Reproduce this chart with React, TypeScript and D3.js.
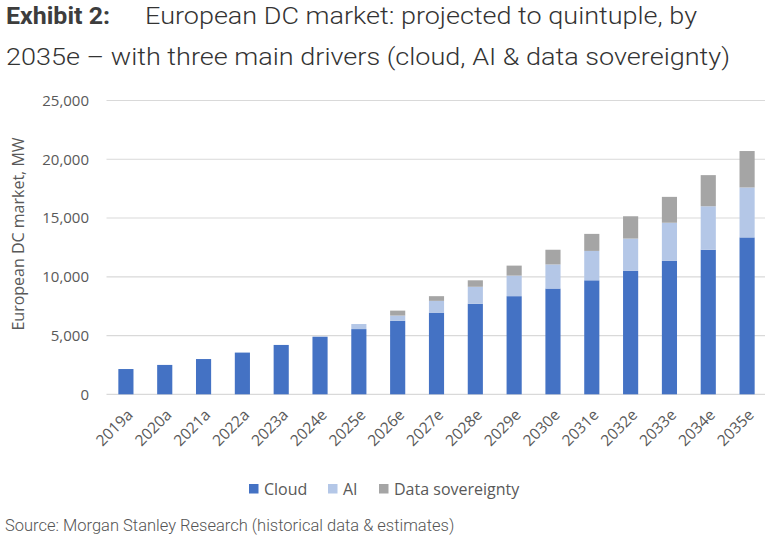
import { useEffect, useRef } from "react";
import * as d3 from "d3";

const years = [
  "2019a", "2020a", "2021a", "2022a", "2023a", "2024e", "2025e", "2026e", "2027e",
  "2028e", "2029e", "2030e", "2031e", "2032e", "2033e", "2034e", "2035e",
];
const cloud = [2150, 2500, 3000, 3550, 4200, 4900, 5550, 6250, 6950, 7700, 8350, 9000, 9700, 10500, 11350, 12300, 13350];
const ai = [0, 0, 0, 0, 0, 0, 430, 450, 1000, 1450, 1750, 2050, 2500, 2750, 3250, 3700, 4250];
const sovereignty = [0, 0, 0, 0, 0, 0, 0, 420, 400, 550, 850, 1250, 1450, 1900, 2200, 2650, 3100];
const seriesNames = ["Cloud", "AI", "Data sovereignty"];
const colors = ["#4472C4", "#B4C7E7", "#A5A5A5"];
const yTicks = [0, 5000, 10000, 15000, 20000, 25000];

export default function App() {
  const svgRef = useRef<SVGSVGElement>(null);

  useEffect(() => {
    const W = 769, H = 544;
    const svg = d3.select(svgRef.current!).attr("width", W).attr("height", H);
    svg.selectAll("*").remove();
    svg.append("rect").attr("width", W).attr("height", H).attr("fill", "#fff");

    // title (the original is slightly stretched horizontally)
    const titleLine = (x0: number, y0: number, len: number, weight: number, txt: string, fill: string) =>
      svg.append("text")
        .attr("x", x0).attr("y", y0)
        .attr("font-family", "Roboto").attr("font-size", 24.5)
        .attr("font-weight", weight).attr("fill", fill)
        .attr("textLength", len).attr("lengthAdjust", "spacingAndGlyphs")
        .text(txt);
    titleLine(6, 24, 104, 700, "Exhibit 2:", "#3d3d3d");
    titleLine(145, 24, 552, 300, "European DC market: projected to quintuple, by", "#333");
    titleLine(6, 65, 724, 300, "2035e \u2013 with three main drivers (cloud, AI & data sovereignty)", "#333");

    const x = d3.scaleBand().domain(years).range([106.5, 766.5]).paddingInner(0.61).paddingOuter(0.305);
    const y = d3.scaleLinear().domain([0, 25000]).range([394.3, 100.5]);

    const axisFont = "'Open Sans', 'DejaVu Sans', sans-serif";

    // grid
    svg.append("g").selectAll("line").data(yTicks).join("line")
      .attr("x1", 106.5).attr("x2", 765)
      .attr("y1", (d) => y(d)).attr("y2", (d) => y(d))
      .attr("stroke", "#d9d9d9").attr("stroke-width", 1.2);

    svg.append("g").selectAll("text").data(yTicks).join("text")
      .attr("x", 89).attr("y", (d) => y(d)).attr("dy", "0.35em")
      .attr("text-anchor", "end")
      .attr("font-family", axisFont).attr("font-size", 15).attr("fill", "#595959")
      .text((d) => d3.format(",")(d));

    svg.append("text")
      .attr("transform", "translate(24,234) rotate(-90)")
      .attr("text-anchor", "middle")
      .attr("font-family", axisFont).attr("font-size", 16).attr("fill", "#595959")
      .text("European DC market, MW");

    const table = years.map((yr, i) => ({ year: yr, Cloud: cloud[i], AI: ai[i], "Data sovereignty": sovereignty[i] }));
    const stacked = d3.stack<any>().keys(seriesNames)(table);

    svg.append("g").selectAll("g").data(stacked).join("g")
      .attr("fill", (_, i) => colors[i])
      .selectAll("rect").data((s) => s).join("rect")
      .attr("x", (d: any) => x(d.data.year)!)
      .attr("width", x.bandwidth())
      .attr("y", (d) => y(d[1]))
      .attr("height", (d) => y(d[0]) - y(d[1]));

    // x labels
    svg.append("g").selectAll("text").data(years).join("text")
      .attr("transform", (d) => `translate(${x(d)! + x.bandwidth() / 2 + 4},${412}) rotate(-45)`)
      .attr("text-anchor", "end")
      .attr("dy", "0.35em")
      .attr("font-family", axisFont).attr("font-size", 15.5).attr("fill", "#595959")
      .text((d) => d);

    // legend
    const legendX = [249, 328, 379];
    const lg = svg.append("g").selectAll("g").data(seriesNames).join("g")
      .attr("transform", (_, i) => `translate(${legendX[i]},489)`);
    lg.append("rect").attr("x", 0).attr("y", -5).attr("width", 9.5).attr("height", 9.5)
      .attr("fill", (_, i) => colors[i]);
    lg.append("text").attr("x", 15).attr("dy", "0.35em")
      .attr("font-family", axisFont).attr("font-size", 16).attr("fill", "#595959")
      .text((d) => d);

    svg.append("text")
      .attr("x", 5).attr("y", 531)
      .attr("font-family", "Roboto").attr("font-weight", 300)
      .attr("font-size", 16.5).attr("fill", "#555")
      .text("Source: Morgan Stanley Research (historical data & estimates)");
  }, []);

  return (
    <div style={{ position: "absolute", left: 0, top: 0 }}>
      <svg ref={svgRef} style={{ display: "block" }} />
    </div>
  );
}
